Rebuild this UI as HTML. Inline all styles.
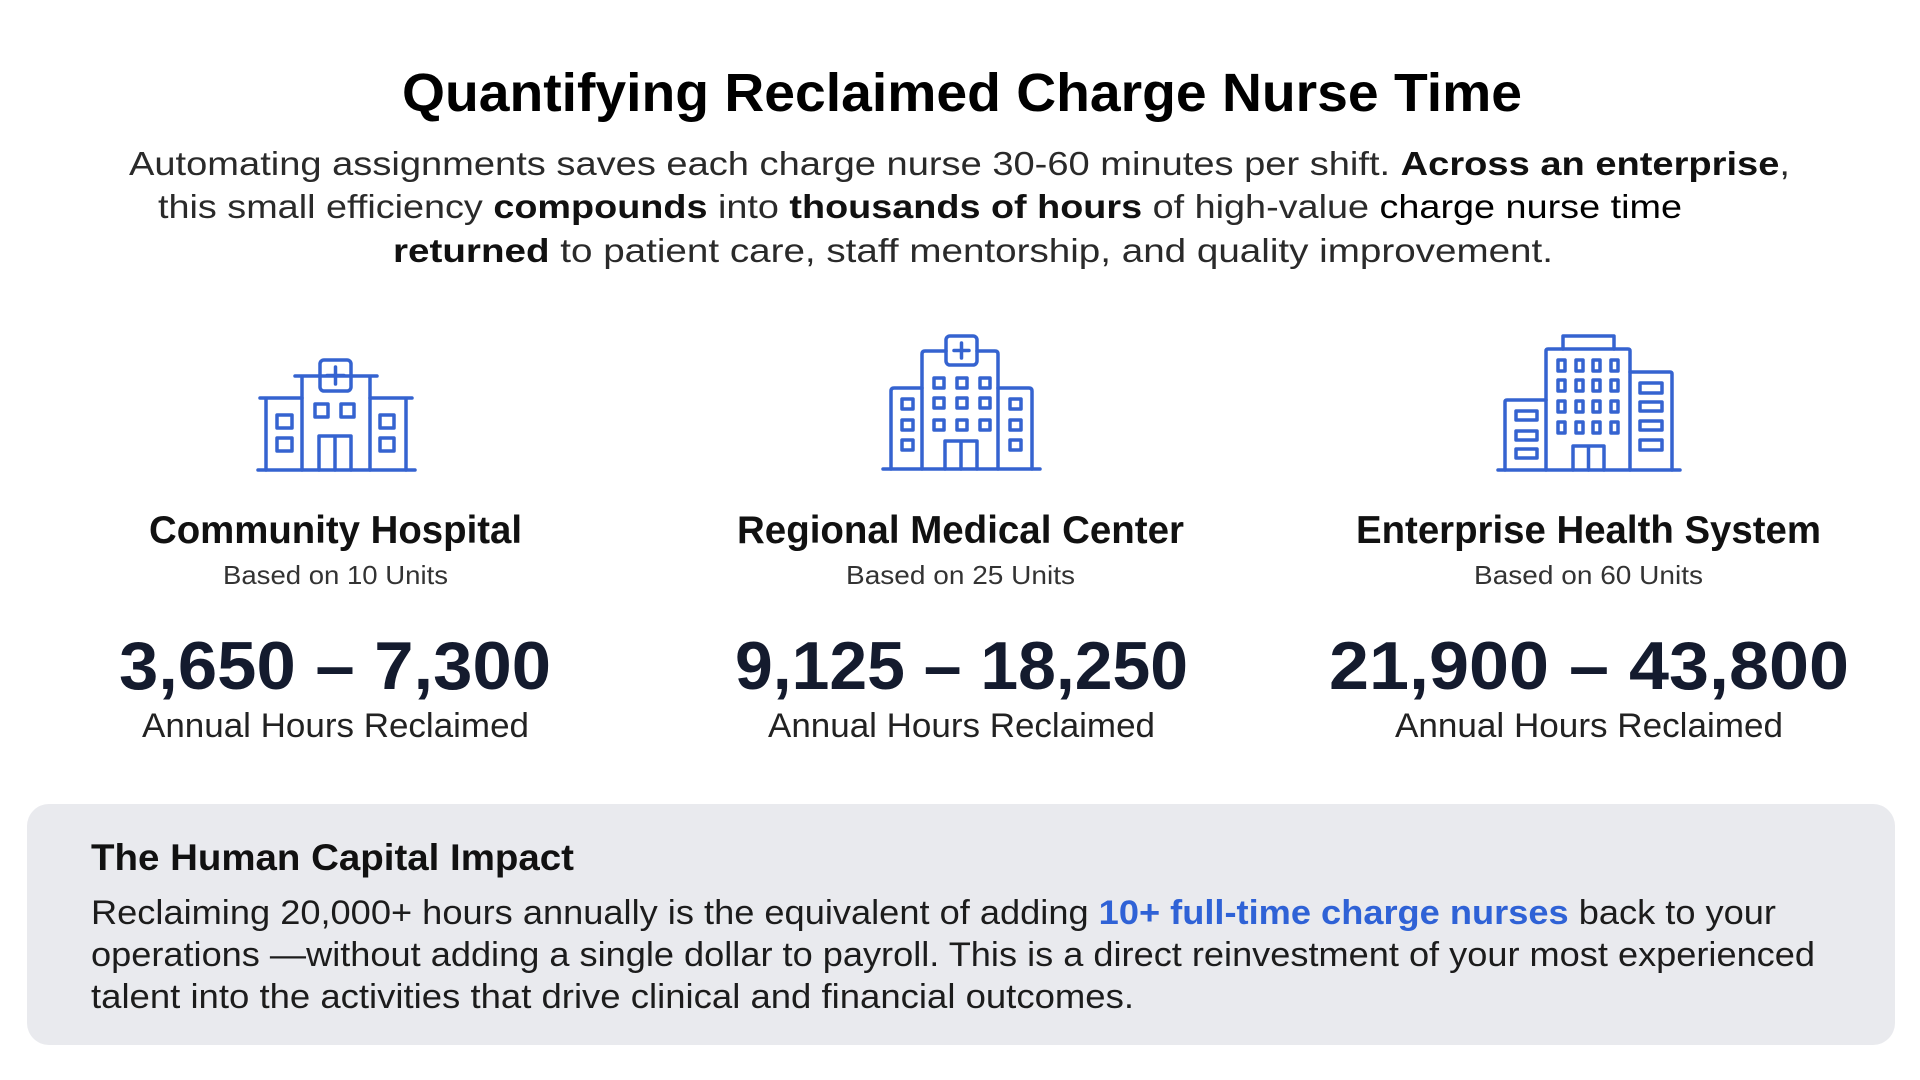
<!DOCTYPE html>
<html><head><meta charset="utf-8"><style>
html,body{margin:0;padding:0;background:#fff;}
svg{display:block;}
text{font-family:"Liberation Sans",sans-serif;}
</style></head><body>
<svg width="1920" height="1080" viewBox="0 0 1920 1080" xmlns="http://www.w3.org/2000/svg">
<rect width="1920" height="1080" fill="#fff"/>
<text x="402" y="111" font-size="54" font-weight="bold" fill="#000" textLength="1120" lengthAdjust="spacingAndGlyphs">Quantifying Reclaimed Charge Nurse Time</text>
<g font-size="33" fill="#2a2a2a">
<text x="129" y="175" textLength="1661" lengthAdjust="spacingAndGlyphs">Automating assignments saves each charge nurse 30-60 minutes per shift. <tspan font-weight="bold" fill="#111">Across an enterprise</tspan>,</text>
<text x="158" y="218" textLength="1524" lengthAdjust="spacingAndGlyphs">this small efficiency <tspan font-weight="bold" fill="#111">compounds</tspan> into <tspan font-weight="bold" fill="#111">thousands of hours</tspan> of high-value <tspan fill="#000">charge nurse time</tspan></text>
<text x="393" y="262" textLength="1160" lengthAdjust="spacingAndGlyphs"><tspan font-weight="bold" fill="#111">returned</tspan> to patient care, staff mentorship, and quality improvement.</text>
</g>
<g fill="none" stroke="#3563d0" stroke-width="3.5" stroke-linejoin="round" stroke-linecap="round">
<!-- icon 1 -->
<line x1="258" y1="470" x2="415" y2="470"/>
<path d="M266 470 V398 H302 M260 398 H302 M370 398 H412 M406 470 V398"/>
<path d="M302 470 V376 H370 V470 M295 376 H320 M351 376 H377"/>
<rect x="320" y="360" width="31" height="31" rx="4"/>
<path d="M335.5 367 V384 M327 375.5 H344"/>
<rect x="315" y="404" width="13" height="13"/><rect x="341" y="404" width="13" height="13"/>
<rect x="277" y="415" width="15" height="13"/><rect x="277" y="438" width="15" height="13"/>
<rect x="380" y="415" width="14" height="13"/><rect x="380" y="438" width="14" height="13"/>
<path d="M319 470 V436 H351 V470 M335 436 V470"/>
<!-- icon 2 -->
<line x1="883" y1="469" x2="1040" y2="469"/>
<path d="M891 469 V391 q0 -3 3 -3 H922 M998 388 H1029 q3 0 3 3 V469"/>
<path d="M922 469 V354 q0 -3 3 -3 H946 M977 351 H995 q3 0 3 3 V469"/>
<rect x="946" y="336" width="31" height="29" rx="4"/>
<path d="M961.5 343 V358 M954 350.5 H969"/>
<rect x="934" y="378" width="10" height="10"/><rect x="957" y="378" width="10" height="10"/><rect x="980" y="378" width="10" height="10"/>
<rect x="934" y="398" width="10" height="10"/><rect x="957" y="398" width="10" height="10"/><rect x="980" y="398" width="10" height="10"/>
<rect x="934" y="420" width="10" height="10"/><rect x="957" y="420" width="10" height="10"/><rect x="980" y="420" width="10" height="10"/>
<rect x="902" y="399" width="11" height="10"/><rect x="902" y="420" width="11" height="10"/><rect x="902" y="440" width="11" height="10"/>
<rect x="1010" y="399" width="11" height="10"/><rect x="1010" y="420" width="11" height="10"/><rect x="1010" y="440" width="11" height="10"/>
<path d="M945 469 V441 H977 V469 M961 441 V469"/>
<!-- icon 3 -->
<line x1="1498" y1="470" x2="1680" y2="470"/>
<path d="M1505 470 V402 q0 -2 2 -2 H1546 M1630 372 H1670 q2 0 2 2 V470"/>
<path d="M1546 470 V351 q0 -2 2 -2 H1628 q2 0 2 2 V470"/>
<path d="M1563 349 V336 H1614 V349"/>
<g>
<rect x="1558" y="360" width="7" height="11"/><rect x="1576" y="360" width="7" height="11"/><rect x="1593" y="360" width="7" height="11"/><rect x="1611" y="360" width="7" height="11"/>
<rect x="1558" y="380" width="7" height="11"/><rect x="1576" y="380" width="7" height="11"/><rect x="1593" y="380" width="7" height="11"/><rect x="1611" y="380" width="7" height="11"/>
<rect x="1558" y="401" width="7" height="11"/><rect x="1576" y="401" width="7" height="11"/><rect x="1593" y="401" width="7" height="11"/><rect x="1611" y="401" width="7" height="11"/>
<rect x="1558" y="422" width="7" height="11"/><rect x="1576" y="422" width="7" height="11"/><rect x="1593" y="422" width="7" height="11"/><rect x="1611" y="422" width="7" height="11"/>
</g>
<rect x="1640" y="383" width="22" height="10"/><rect x="1640" y="402" width="22" height="9"/><rect x="1640" y="421" width="22" height="9"/><rect x="1640" y="440" width="22" height="10"/>
<rect x="1516" y="411" width="21" height="9"/><rect x="1516" y="431" width="21" height="9"/><rect x="1516" y="449" width="21" height="9"/>
<path d="M1573 470 V446 H1604 V470 M1588.5 446 V470"/>
</g>
<g font-weight="bold" font-size="39" fill="#111" text-anchor="start">
<text x="149" y="543" textLength="373" lengthAdjust="spacingAndGlyphs">Community Hospital</text>
<text x="737" y="543" textLength="447" lengthAdjust="spacingAndGlyphs">Regional Medical Center</text>
<text x="1356" y="543" textLength="465" lengthAdjust="spacingAndGlyphs">Enterprise Health System</text>
</g>
<g font-size="26" fill="#333">
<text x="223" y="584" textLength="225" lengthAdjust="spacingAndGlyphs">Based on 10 Units</text>
<text x="846" y="584" textLength="229" lengthAdjust="spacingAndGlyphs">Based on 25 Units</text>
<text x="1474" y="584" textLength="229" lengthAdjust="spacingAndGlyphs">Based on 60 Units</text>
</g>
<g font-weight="bold" font-size="68" fill="#141b2e">
<text x="119" y="689" textLength="432" lengthAdjust="spacingAndGlyphs">3,650 – 7,300</text>
<text x="735" y="689" textLength="453" lengthAdjust="spacingAndGlyphs">9,125 – 18,250</text>
<text x="1329" y="689" textLength="520" lengthAdjust="spacingAndGlyphs">21,900 – 43,800</text>
</g>
<g font-size="34" fill="#222">
<text x="142" y="737" textLength="387" lengthAdjust="spacingAndGlyphs">Annual Hours Reclaimed</text>
<text x="768" y="737" textLength="387" lengthAdjust="spacingAndGlyphs">Annual Hours Reclaimed</text>
<text x="1395" y="737" textLength="388" lengthAdjust="spacingAndGlyphs">Annual Hours Reclaimed</text>
</g>
<rect x="27" y="804" width="1868" height="241" rx="22" fill="#e9eaee"/>
<text x="91" y="870" font-size="37" font-weight="bold" fill="#111" textLength="483" lengthAdjust="spacingAndGlyphs">The Human Capital Impact</text>
<g font-size="34" fill="#1c1c1c">
<text x="91" y="924" textLength="1685" lengthAdjust="spacingAndGlyphs">Reclaiming 20,000+ hours annually is the equivalent of adding <tspan font-weight="bold" fill="#2f62d6">10+ full-time charge nurses</tspan> back to your</text>
<text x="91" y="966" textLength="1724" lengthAdjust="spacingAndGlyphs">operations —without adding a single dollar to payroll. This is a direct reinvestment of your most experienced</text>
<text x="91" y="1008" textLength="1043" lengthAdjust="spacingAndGlyphs">talent into the activities that drive clinical and financial outcomes.</text>
</g>
</svg>
</body></html>
